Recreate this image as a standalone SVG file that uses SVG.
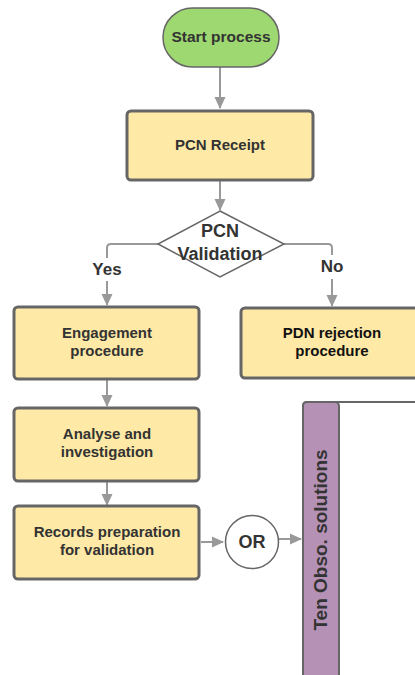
<svg xmlns="http://www.w3.org/2000/svg" width="415" height="675" viewBox="0 0 415 675">
<style>
.box{fill:#ffe9a6;stroke:#666;stroke-width:3}
.t{font-family:"Liberation Sans",Arial,sans-serif;font-weight:bold;fill:#333;text-anchor:middle}
.c{fill:none;stroke:#999;stroke-width:2}
</style>
<defs>
<marker id="ah" markerWidth="12" markerHeight="12" refX="11" refY="6" orient="auto" markerUnits="userSpaceOnUse">
<path d="M0,0.5 L12,6 L0,11.5 Z" fill="#999"/>
</marker>
</defs>
<rect width="415" height="675" fill="#fff"/>
<g id="lane">
<path d="M303,675 V406 Q303,402 307,402 H415" fill="#fff" stroke="#666" stroke-width="2"/>
<rect x="303" y="402" width="36" height="280" rx="4" fill="#b592b5" stroke="#666" stroke-width="2"/>
<text class="t" font-size="19" transform="translate(327,540) rotate(-90)">Ten Obso. solutions</text>
</g>
<g id="connectors">
<line class="c" x1="220" y1="67" x2="220" y2="108" marker-end="url(#ah)"/>
<line class="c" x1="220" y1="181" x2="220" y2="210" marker-end="url(#ah)"/>
<path class="c" d="M158,244 H111 Q107,244 107,248 V258"/>
<path class="c" d="M107,281 V305" marker-end="url(#ah)"/>
<path class="c" d="M284,244 H328 Q332,244 332,248 V255"/>
<path class="c" d="M332,279 V306" marker-end="url(#ah)"/>
<line class="c" x1="107" y1="380" x2="107" y2="406" marker-end="url(#ah)"/>
<line class="c" x1="107" y1="482" x2="107" y2="505" marker-end="url(#ah)"/>
<line class="c" x1="201" y1="542" x2="223" y2="542" marker-end="url(#ah)"/>
<line class="c" x1="279" y1="539" x2="301" y2="539" marker-end="url(#ah)"/>
<text class="t" font-size="17" x="107" y="275">Yes</text>
<text class="t" font-size="17" x="332" y="272">No</text>
</g>
<g id="start">
<rect x="163" y="8" width="116" height="59" rx="29.5" fill="#9ed870" stroke="#666" stroke-width="1.5"/>
<text class="t" font-size="15.5" x="221" y="42">Start process</text>
</g>
<g id="receipt">
<rect class="box" x="127" y="111" width="186" height="69" rx="4"/>
<text class="t" font-size="15" x="220" y="150">PCN Receipt</text>
</g>
<g id="validation">
<path d="M220,211 L284,244 L220,277 L158,244 Z" fill="#fff" stroke="#666" stroke-width="1.5"/>
<text class="t" font-size="18" x="220" y="237">PCN</text>
<text class="t" font-size="18" x="220" y="260">Validation</text>
</g>
<g id="engagement">
<rect class="box" x="14" y="307" width="185" height="72" rx="4"/>
<text class="t" font-size="15" x="107" y="338">Engagement</text>
<text class="t" font-size="15" x="107" y="356">procedure</text>
</g>
<g id="pdn">
<rect class="box" x="241" y="308" width="185" height="70" rx="4"/>
<text class="t" font-size="15" x="332" y="338" style="fill:#111">PDN rejection</text>
<text class="t" font-size="15" x="332" y="356" style="fill:#111">procedure</text>
</g>
<g id="analyse">
<rect class="box" x="14" y="408" width="185" height="73" rx="4"/>
<text class="t" font-size="15" x="107" y="439">Analyse and</text>
<text class="t" font-size="15" x="107" y="457">investigation</text>
</g>
<g id="records">
<rect class="box" x="14" y="506" width="185" height="73" rx="4"/>
<text class="t" font-size="15" x="107" y="537">Records preparation</text>
<text class="t" font-size="15" x="107" y="555">for validation</text>
</g>
<g id="or">
<circle cx="252" cy="542" r="26.5" fill="#fff" stroke="#666" stroke-width="1.5"/>
<text class="t" font-size="18" x="252" y="548">OR</text>
</g>
</svg>
